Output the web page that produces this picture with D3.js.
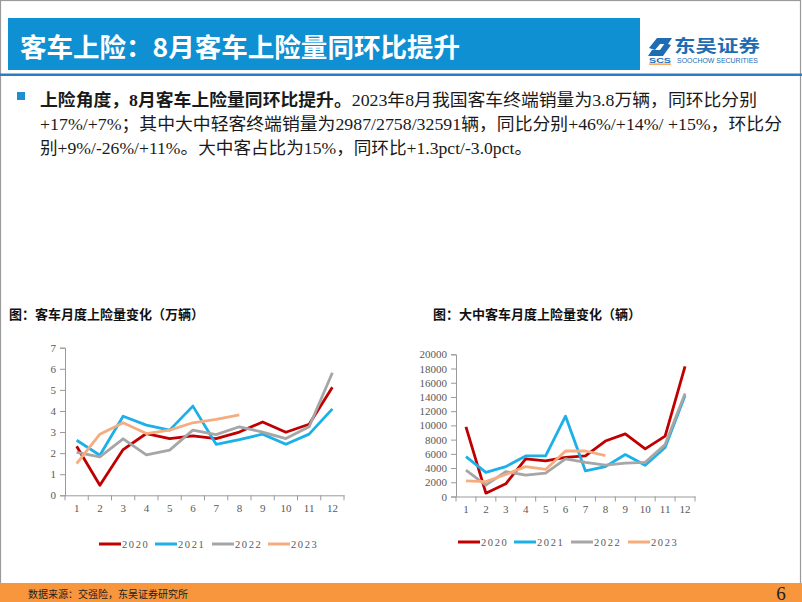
<!DOCTYPE html>
<html><head><meta charset="utf-8">
<script src="https://cdn.jsdelivr.net/npm/d3@7/dist/d3.min.js"></script>
<style>html,body{margin:0;padding:0;background:#fff;}svg{display:block;}</style>
</head><body>
<script>
// ---- data ----
const months = [1,2,3,4,5,6,7,8,9,10,11,12];
const years = ["2020","2021","2022","2023"];
const colors = ["#c00000","#1cb0e8","#a6a6a6","#f5ad80"];
// 客车月度上险量（万辆）
const total2020 = [2.33,0.48,2.17,2.93,2.69,2.82,2.69,3.0,3.48,2.99,3.37,5.12];
const total2021 = [2.61,1.9,3.75,3.33,3.09,4.23,2.42,2.64,2.9,2.42,2.9,4.1];
const total2022 = [2.03,1.82,2.68,1.92,2.14,3.09,2.88,3.25,3.0,2.69,3.25,5.81];
const total2023 = [1.5,2.9,3.44,2.93,3.09,3.44,3.6,3.82];
const totalTicks = [0,1,2,3,4,5,6,7];
// 大中客车月度上险量（辆）
const large2020 = [9800,470,1780,5300,5000,5500,5700,7800,8800,6700,8500,18300];
const large2021 = [5600,3400,4200,5700,5700,11300,3600,4200,5900,4400,6900,14200];
const large2022 = [3700,1600,3500,3000,3300,5300,4800,4400,4700,4800,7300,14500];
const large2023 = [2200,2100,3100,4200,3800,6400,6400,5745];
const largeTicks = [0,2000,4000,6000,8000,10000,12000,14000,16000,18000,20000];

const W = 802, H = 602;
const svg = d3.select("body").append("svg").attr("width", W).attr("height", H);
svg.append("rect").attr("width", W).attr("height", H).attr("fill", "#fff");

const CJK = "'Noto Sans CJK SC', sans-serif";
const MIX = "'Liberation Serif', 'Noto Sans CJK SC', serif";

// page border
svg.append("rect").attr("x",0.5).attr("y",0.5).attr("width",800).attr("height",600)
  .attr("fill","none").attr("stroke","#9a9a9a").attr("stroke-width",1.2);

// header
svg.append("rect").attr("x",8).attr("y",18).attr("width",632).attr("height",52).attr("fill","#0e90d2");
svg.append("text").attr("x",20).attr("y",45).attr("dominant-baseline","central")
  .attr("font-family",CJK).attr("font-weight","bold").attr("font-size",26).attr("fill","#fff")
  .attr("textLength",440).attr("lengthAdjust","spacingAndGlyphs")
  .text("客车上险：8月客车上险量同环比提升");
svg.append("rect").attr("x",0).attr("y",73.5).attr("width",W).attr("height",2.5).attr("fill","#2a7cc6");

// logo
const logo = svg.append("g");
logo.append("path").attr("d","M649,48 L657,38 L672,38 L668,44 L660,44 L655,50 Z").attr("fill","#1e6cb4");
logo.append("path").attr("d","M671,45 L663,56 L648,56 L652,50 L660,50 L665,43 Z").attr("fill","#1e6cb4");
logo.append("text").attr("x",660).attr("y",62.5).attr("text-anchor","middle").attr("font-family","Arial, sans-serif")
  .attr("font-weight","bold").attr("font-size",7).attr("fill","#1e6cb4")
  .attr("textLength",22).attr("lengthAdjust","spacingAndGlyphs").text("SCS");
logo.append("rect").attr("x",649).attr("y",63.5).attr("width",22).attr("height",1.3).attr("fill","#f7963c");
logo.append("text").attr("x",674).attr("y",45).attr("dominant-baseline","central")
  .attr("font-family",CJK).attr("font-weight","bold").attr("font-size",16.5).attr("fill","#1e6cb4")
  .attr("textLength",86).attr("lengthAdjust","spacingAndGlyphs").text("东吴证券");
logo.append("text").attr("x",677).attr("y",63).attr("font-family","Arial, sans-serif")
  .attr("font-size",6.3).attr("fill","#1e6cb4").attr("textLength",81).attr("lengthAdjust","spacingAndGlyphs")
  .text("SOOCHOW SECURITIES");

// bullet text
svg.append("rect").attr("x",17).attr("y",92).attr("width",8).attr("height",8).attr("fill","#1f8fd0");
const para = [
  [{t:"上险角度，8月客车上险量同环比提升。",b:true},{t:"2023年8月我国客车终端销量为3.8万辆，同环比分别"}],
  [{t:"+17%/+7%；其中大中轻客终端销量为2987/2758/32591辆，同比分别+46%/+14%/ +15%，环比分"}],
  [{t:"别+9%/-26%/+11%。大中客占比为15%，同环比+1.3pct/-3.0pct。"}]
];
const lineY = [99.5, 123.5, 147.5];
const lineLen = [717, 742, 492];
para.forEach((segs,i)=>{
  const t = svg.append("text").attr("x",40).attr("y",lineY[i]).attr("dominant-baseline","central")
    .attr("font-family",MIX).attr("font-size",17).attr("fill","#1a1a1a");
  if (lineLen[i]) t.attr("textLength",lineLen[i]).attr("lengthAdjust","spacingAndGlyphs");
  segs.forEach(s=>{
    const ts = t.append("tspan").text(s.t);
    if (s.b) ts.attr("font-weight","bold");
  });
});

// chart builder
function chart(cfg){
  const g = svg.append("g");
  const x = d3.scaleBand().domain(months).range([cfg.x0, cfg.x1]);
  const y = d3.scaleLinear().domain([cfg.ticks[0], cfg.ticks[cfg.ticks.length-1]]).range([cfg.y0, cfg.y1]);
  // title
  g.append("text").attr("x",cfg.titleX).attr("y",313).attr("dominant-baseline","central")
    .attr("font-family",CJK).attr("font-weight","bold").attr("font-size",13).attr("fill","#111").text(cfg.title);
  // y axis
  const ya = g.append("g").attr("transform",`translate(${cfg.x0},0)`)
    .call(d3.axisLeft(y).tickValues(cfg.ticks).tickSize(5).tickPadding(4).tickFormat(d3.format("d")));
  // x axis
  const xa = g.append("g").attr("transform",`translate(0,${cfg.y0})`)
    .call(d3.axisBottom(x).tickSize(0).tickPadding(9));
  xa.selectAll(".tick line").remove();
  [ya, xa].forEach(a=>{
    a.select(".domain").attr("stroke","#9a9a9a");
    a.selectAll(".tick line").attr("stroke","#9a9a9a");
    a.selectAll("text").attr("font-family","'Liberation Serif', serif").attr("font-size",11).attr("fill","#595959");
  });
  // x boundary ticks
  g.selectAll(null).data(d3.range(months.length+1)).join("line")
    .attr("x1",d=>cfg.x0 + d*x.step()).attr("x2",d=>cfg.x0 + d*x.step())
    .attr("y1",cfg.y0).attr("y2",cfg.y0+5).attr("stroke","#9a9a9a");
  // lines
  const line = d3.line().x((d,i)=>x(months[i]) + x.bandwidth()/2).y(d=>y(d));
  cfg.series.forEach((s,i)=>{
    g.append("path").attr("d",line(s)).attr("fill","none").attr("stroke",colors[i])
      .attr("stroke-width",2.8).attr("stroke-linejoin","round");
  });
  // legend
  years.forEach((yr,i)=>{
    const lx = cfg.legX[i];
    g.append("line").attr("x1",lx).attr("x2",lx+22).attr("y1",cfg.legY).attr("y2",cfg.legY)
      .attr("stroke",colors[i]).attr("stroke-width",3);
    g.append("text").attr("x",lx+23).attr("y",cfg.legY).attr("dominant-baseline","central")
      .attr("font-family","'Liberation Serif', serif").attr("font-size",10.5).attr("letter-spacing",1.6)
      .attr("fill","#595959").text(yr);
  });
}

chart({title:"图：客车月度上险量变化（万辆）", titleX:9, x0:65, x1:344, y0:495.3, y1:347.7,
  ticks: totalTicks, series:[total2020,total2021,total2022,total2023],
  legX:[99,155,212,268], legY:544});
chart({title:"图：大中客车月度上险量变化（辆）", titleX:433, x0:456, x1:695, y0:496.5, y1:354.3,
  ticks: largeTicks, series:[large2020,large2021,large2022,large2023],
  legX:[458,514,571,628], legY:542});

// footer
svg.append("rect").attr("x",0).attr("y",583).attr("width",W).attr("height",19).attr("fill","#f7963c");
svg.append("text").attr("x",28).attr("y",593).attr("dominant-baseline","central")
  .attr("font-family",CJK).attr("font-size",10).attr("fill","#222").text("数据来源：交强险，东吴证券研究所");
svg.append("text").attr("x",781).attr("y",593).attr("text-anchor","middle").attr("dominant-baseline","central")
  .attr("font-family","'Liberation Serif', serif").attr("font-size",19).attr("fill","#222").text("6");
</script>
</body></html>
